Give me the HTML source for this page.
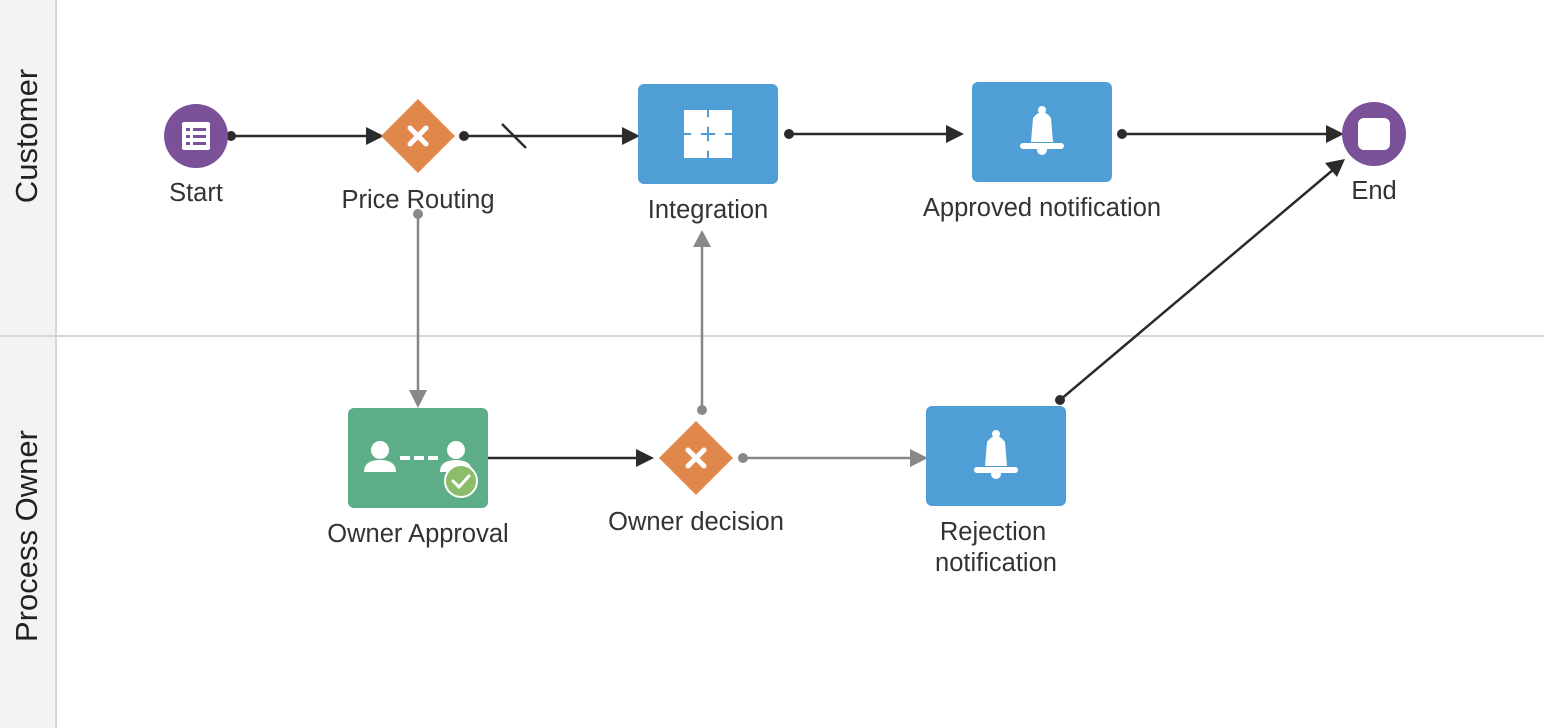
<!DOCTYPE html>
<html><head><meta charset="utf-8"><style>
html,body{margin:0;padding:0;background:#fff;}
svg{display:block;font-family:"Liberation Sans",Arial,sans-serif;}
</style></head><body>
<svg width="1544" height="728" viewBox="0 0 1544 728" xmlns="http://www.w3.org/2000/svg">
<rect x="0" y="0" width="56" height="728" fill="#f3f3f3"/>
<line x1="56" y1="0" x2="56" y2="728" stroke="#d6d6d6" stroke-width="2"/>
<line x1="0" y1="336" x2="1544" y2="336" stroke="#d6d6d6" stroke-width="2"/>
<text transform="translate(37,136) rotate(-90)" text-anchor="middle" font-size="31" fill="#222">Customer</text>
<text transform="translate(37,536) rotate(-90)" text-anchor="middle" font-size="31" fill="#222">Process Owner</text>

<!-- edges -->
<g stroke="#2b2b2b" stroke-width="2.5" fill="none">
<line x1="231" y1="136" x2="368" y2="136"/>
<line x1="464" y1="136" x2="624" y2="136"/>
<line x1="502" y1="124" x2="526" y2="148"/>
<line x1="789" y1="134" x2="948" y2="134"/>
<line x1="1122" y1="134" x2="1328" y2="134"/>
<line x1="488" y1="458" x2="638" y2="458"/>
<line x1="1060" y1="400" x2="1334" y2="169"/>
</g>
<g fill="#2b2b2b">
<circle cx="231" cy="136" r="5"/>
<polygon points="384,136 366,127 366,145"/>
<circle cx="464" cy="136" r="5"/>
<polygon points="640,136 622,127 622,145"/>
<circle cx="789" cy="134" r="5"/>
<polygon points="964,134 946,125 946,143"/>
<circle cx="1122" cy="134" r="5"/>
<polygon points="1344,134 1326,125 1326,143"/>
<polygon points="654,458 636,449 636,467"/>
<circle cx="1060" cy="400" r="5"/>
<polygon points="1345,159 1325,163 1337,177"/>
</g>
<g stroke="#888" stroke-width="2.5" fill="none">
<line x1="418" y1="214" x2="418" y2="392"/>
<line x1="702" y1="410" x2="702" y2="246"/>
<line x1="743" y1="458" x2="912" y2="458"/>
</g>
<g fill="#888">
<circle cx="418" cy="214" r="5"/>
<polygon points="418,408 409,390 427,390"/>
<circle cx="702" cy="410" r="5"/>
<polygon points="702,230 693,247 711,247"/>
<circle cx="743" cy="458" r="5"/>
<polygon points="928,458 910,449 910,467"/>
</g>

<!-- Start -->
<circle cx="196" cy="136" r="32" fill="#7b5299"/>
<rect x="182" y="122" width="28" height="28" rx="2" fill="#fff"/>
<g fill="#7b5299"><rect x="186" y="128" width="4" height="3"/><rect x="193" y="128" width="13" height="3"/><rect x="186" y="135" width="4" height="3"/><rect x="193" y="135" width="13" height="3"/><rect x="186" y="142" width="4" height="3"/><rect x="193" y="142" width="13" height="3"/></g>
<text x="196" y="201" text-anchor="middle" font-size="25.5" fill="#333">Start</text>

<!-- Price Routing -->
<polygon points="418,99 455,136 418,173 381,136" fill="#e0874c"/>
<g stroke="#fff" stroke-width="5" stroke-linecap="round"><line x1="410" y1="128" x2="426" y2="144"/><line x1="426" y1="128" x2="410" y2="144"/></g>
<text x="418" y="208" text-anchor="middle" font-size="25.5" fill="#333">Price Routing</text>

<!-- Integration -->
<rect x="638" y="84" width="140" height="100" rx="6" fill="#4f9fd6"/>
<g fill="#fff"><rect x="684" y="110" width="23" height="23"/><rect x="709" y="110" width="23" height="23"/><rect x="684" y="135" width="23" height="23"/><rect x="709" y="135" width="23" height="23"/>
<circle cx="709" cy="122" r="5"/><circle cx="720" cy="135" r="5"/><circle cx="696" cy="133" r="5"/><circle cx="707" cy="146" r="5"/></g>
<text x="708" y="218" text-anchor="middle" font-size="25.5" fill="#333">Integration</text>

<!-- Approved notification -->
<rect x="972" y="82" width="140" height="100" rx="6" fill="#4f9fd6"/>
<g fill="#fff"><path d="M1031,142 L1033,118 Q1042,106 1051,118 L1053,142 Z"/><rect x="1020" y="143" width="44" height="6" rx="3"/><circle cx="1042" cy="110" r="4"/><circle cx="1042" cy="150" r="5"/></g>
<text x="1042" y="216" text-anchor="middle" font-size="25.5" fill="#333">Approved notification</text>

<!-- End -->
<circle cx="1374" cy="134" r="32" fill="#7b5299"/>
<rect x="1358" y="118" width="32" height="32" rx="6" fill="#fff"/>
<text x="1374" y="199" text-anchor="middle" font-size="25.5" fill="#333">End</text>

<!-- Owner Approval -->
<rect x="348" y="408" width="140" height="100" rx="6" fill="#5dad89"/>
<g fill="#fff"><circle cx="380" cy="450" r="9"/><path d="M364,472 Q364,460 380,460 Q396,460 396,472 Z"/><circle cx="456" cy="450" r="9"/><path d="M440,472 Q440,460 456,460 Q472,460 472,472 Z"/><rect x="400" y="456" width="10" height="4"/><rect x="414" y="456" width="10" height="4"/><rect x="428" y="456" width="10" height="4"/></g>
<circle cx="461" cy="481" r="16" fill="#8cbd6b" stroke="#fff" stroke-width="2"/>
<polyline points="453,481 459,487 469,476" fill="none" stroke="#fff" stroke-width="3" stroke-linecap="round"/>
<text x="418" y="542" text-anchor="middle" font-size="25.5" fill="#333">Owner Approval</text>

<!-- Owner decision -->
<polygon points="696,421 733,458 696,495 659,458" fill="#e0874c"/>
<g stroke="#fff" stroke-width="5" stroke-linecap="round"><line x1="688" y1="450" x2="704" y2="466"/><line x1="704" y1="450" x2="688" y2="466"/></g>
<text x="696" y="530" text-anchor="middle" font-size="25.5" fill="#333">Owner decision</text>

<!-- Rejection -->
<rect x="926" y="406" width="140" height="100" rx="6" fill="#4f9fd6"/>
<g fill="#fff"><path d="M985,466 L987,442 Q996,430 1005,442 L1007,466 Z"/><rect x="974" y="467" width="44" height="6" rx="3"/><circle cx="996" cy="434" r="4"/><circle cx="996" cy="474" r="5"/></g>
<text x="993" y="540" text-anchor="middle" font-size="25.5" fill="#333">Rejection</text>
<text x="996" y="571" text-anchor="middle" font-size="25.5" fill="#333">notification</text>
</svg>
</body></html>
